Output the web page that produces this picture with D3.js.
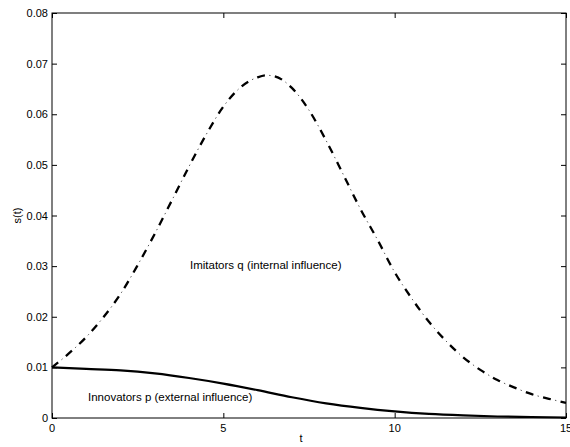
<!DOCTYPE html>
<html>
<head>
<meta charset="utf-8">
<script src="https://cdn.jsdelivr.net/npm/d3@7"></script>
<style>
  html, body { margin: 0; padding: 0; background: #fff; }
  svg { display: block; }
  text { font-family: "Liberation Sans", Arial, Helvetica, sans-serif; fill: #000; }
</style>
</head>
<body>
<svg id="chart" width="570" height="447"></svg>
<script>
// ---- data ----
const tImitators = [0, 0.5, 1, 1.5, 2, 2.5, 3, 3.5, 4, 4.5, 5, 5.5, 6, 6.25, 6.5, 7, 7.5, 8, 8.5, 9, 9.5, 10, 10.5, 11, 11.5, 12, 12.5, 13, 13.5, 14, 14.5, 15];
const imitators  = [0.0100, 0.0128, 0.0160, 0.0199, 0.0245, 0.0302, 0.0364, 0.0430, 0.0497, 0.0560, 0.0615, 0.0653, 0.0673, 0.0677, 0.0675, 0.0652, 0.0608, 0.0548, 0.0481, 0.0413, 0.0352, 0.0288, 0.0236, 0.0190, 0.0152, 0.0120, 0.0095, 0.0075, 0.0060, 0.0047, 0.0038, 0.0030];
const tInnovators = [0, 1, 2, 3, 4, 5, 6, 7, 8, 9, 10, 11, 12, 13, 14, 15];
const innovators  = [0.0100, 0.0097, 0.0094, 0.0088, 0.0079, 0.0068, 0.0055, 0.0041, 0.0029, 0.0020, 0.0013, 0.0008, 0.0005, 0.0003, 0.0002, 0.0001];
const xTicks = [0, 5, 10, 15];
const yTicks = [0, 0.01, 0.02, 0.03, 0.04, 0.05, 0.06, 0.07, 0.08];
const labels = { x: "t", y: "s(t)", imit: "Imitators q (internal influence)", innov: "Innovators p (external influence)" };

// ---- layout ----
const svg = d3.select("#chart");
const L = 52, R = 566, T = 13, B = 418;
const x = d3.scaleLinear().domain([0, 15]).range([L, R]);
const y = d3.scaleLinear().domain([0, 0.08]).range([B, T]);
const fmtY = d => d === 0 ? "0" : d3.format(".2f")(d);
const tick = 5;
const fs = 11;
const fsNote = 11.5;

svg.append("rect").attr("width", 570).attr("height", 447).attr("fill", "#fff");

// axes (ticks inside, on all four sides)
const gL = svg.append("g").attr("transform", `translate(${L},0)`)
  .call(d3.axisRight(y).tickValues(yTicks).tickSize(tick).tickFormat(""));
const gR = svg.append("g").attr("transform", `translate(${R},0)`)
  .call(d3.axisLeft(y).tickValues(yTicks).tickSize(tick).tickFormat(""));
const gB = svg.append("g").attr("transform", `translate(0,${B})`)
  .call(d3.axisTop(x).tickValues(xTicks).tickSize(tick).tickFormat(""));
const gT = svg.append("g").attr("transform", `translate(0,${T})`)
  .call(d3.axisBottom(x).tickValues(xTicks).tickSize(tick).tickFormat(""));
[gL, gR, gB, gT].forEach(g => {
  g.select(".domain").remove();
  g.selectAll("line").attr("stroke", "#000").attr("stroke-width", 1);
});

// tick labels
svg.append("g").selectAll("text").data(yTicks).join("text")
  .attr("x", L - 4).attr("y", d => y(d) + 4)
  .attr("text-anchor", "end").attr("font-size", fs).text(fmtY);
svg.append("g").selectAll("text").data(xTicks).join("text")
  .attr("x", d => x(d)).attr("y", B + 14)
  .attr("text-anchor", "middle").attr("font-size", fs).text(d => d);

// axis labels
svg.append("text").attr("x", (L + R) / 2 - 8).attr("y", 442)
  .attr("text-anchor", "middle").attr("font-size", fs).text(labels.x);
svg.append("text").attr("transform", `translate(21,${(T + B) / 2}) rotate(-90)`)
  .attr("text-anchor", "middle").attr("font-size", fs).text(labels.y);

// curves
const line = d3.line().curve(d3.curveMonotoneX);
const imitPts = tImitators.map((t, i) => [x(t), y(imitators[i])]);
const innovPts = tInnovators.map((t, i) => [x(t), y(innovators[i])]);

svg.append("path").attr("d", line(innovPts))
  .attr("fill", "none").attr("stroke", "#000").attr("stroke-width", 2.2);

svg.append("path").attr("d", line(imitPts))
  .attr("fill", "none").attr("stroke", "#000").attr("stroke-width", 2.3)
  .attr("stroke-dasharray", "8,10");
svg.append("path").attr("d", line(imitPts))
  .attr("fill", "none").attr("stroke", "#444").attr("stroke-width", 0.9)
  .attr("stroke-dasharray", "0,12.3,1.4,4.3");

// frame
svg.append("rect").attr("x", L).attr("y", T).attr("width", R - L).attr("height", B - T)
  .attr("fill", "none").attr("stroke", "#000").attr("stroke-width", 1);

// annotations
svg.append("text").attr("x", 190).attr("y", 269).attr("font-size", fsNote).text(labels.imit);
svg.append("text").attr("x", 88).attr("y", 401).attr("font-size", fsNote).text(labels.innov);
</script>
</body>
</html>
